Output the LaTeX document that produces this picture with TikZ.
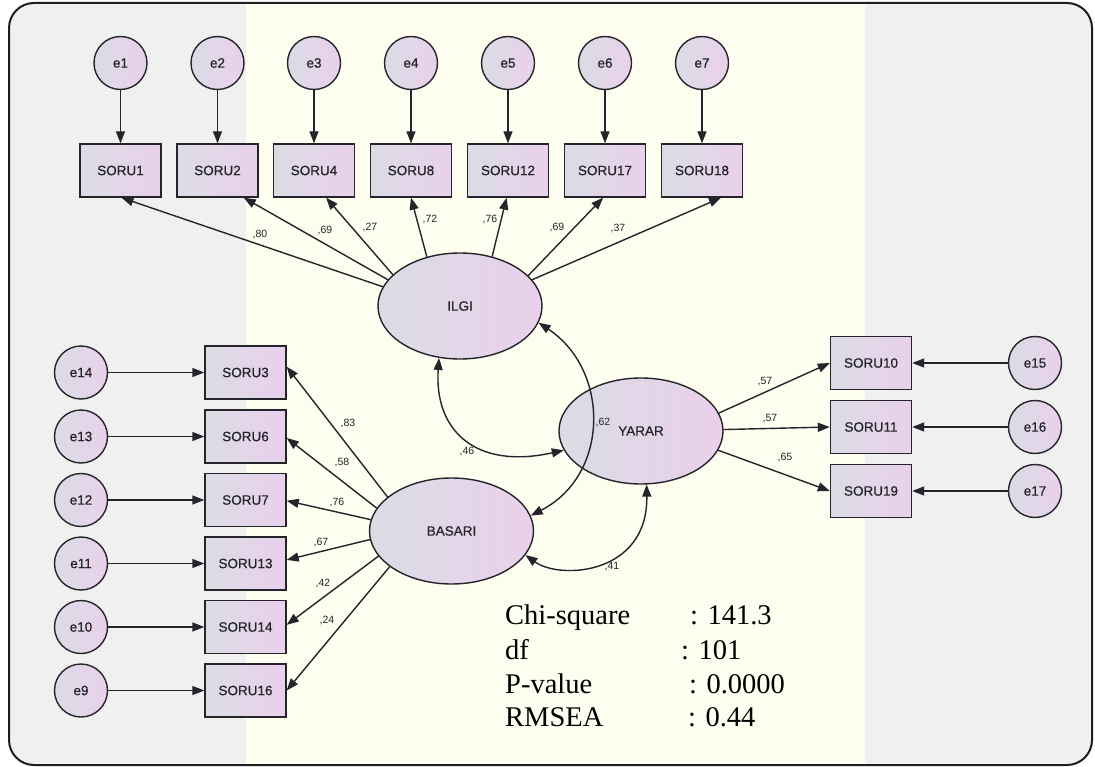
\documentclass[tikz,border=0pt]{standalone}
\usepackage{fontspec}
\setmainfont{Liberation Serif}
\setsansfont{Liberation Sans}
\newfontfamily\diagfont{Liberation Sans}[BoldFont={Liberation Sans}, BoldFeatures={FakeBold=0.6}]
\usetikzlibrary{arrows.meta,shapes.geometric}

\definecolor{panelgray}{RGB}{240,240,240}
\definecolor{panelcream}{RGB}{253,253,240}
\definecolor{shadeL}{RGB}{218,220,228}
\definecolor{shadeR}{RGB}{234,208,236}
\definecolor{ink}{RGB}{36,36,42}
\definecolor{framecol}{RGB}{30,30,30}

\begin{document}
\begin{tikzpicture}[x=1pt,y=-1pt,
  tip/.style={-{Triangle[length=12pt,width=9pt]}},
  obs/.style={rectangle, draw=ink, line width=1.4pt, left color=shadeL, right color=shadeR,
    minimum width=81pt, minimum height=53pt, inner sep=0pt,
    font=\diagfont\bfseries\fontsize{13.5}{13.5}\selectfont, text=ink},
  err/.style={circle, draw=ink, line width=1.4pt, left color=shadeL, right color=shadeR,
    minimum size=53pt, inner sep=0pt,
    font=\diagfont\bfseries\fontsize{13.5}{13.5}\selectfont, text=ink},
  lat/.style={ellipse, draw=ink, line width=1.4pt, left color=shadeL, right color=shadeR,
    minimum width=164pt, minimum height=106pt, inner sep=0pt,
    font=\diagfont\bfseries\fontsize{13.5}{13.5}\selectfont, text=ink},
  load/.style={draw=ink, line width=1.4pt, tip},
  cov/.style={draw=ink, line width=1.4pt,
    {Triangle[length=12pt,width=9pt]}-{Triangle[length=12pt,width=9pt]}},
  coef/.style={font=\sffamily\fontsize{10.5}{10.5}\selectfont, text=ink, inner sep=0pt},
  stat/.style={font=\rmfamily\fontsize{28.5}{34}\selectfont, anchor=base west,
    inner sep=0pt, text=black}
]
\useasboundingbox (0,0) rectangle (1095,767);

% panel background and frame
\begin{scope}
  \clip[rounded corners=25pt] (9,3) rectangle (1092,765);
  \fill[panelgray] (9,3) rectangle (246,765);
  \fill[panelcream] (246,3) rectangle (865,765);
  \fill[panelgray] (865,3) rectangle (1092,765);
\end{scope}
\draw[line width=2pt, draw=framecol, rounded corners=25pt] (9,3) rectangle (1092,765);

% latent variables
\node[lat] (ILGI) at (460,306) {ILGI};
\node[lat] (YARAR) at (641,431) {YARAR};
\node[lat] (BASARI) at (451.5,531) {BASARI};

% ILGI indicators (top row)
\foreach \n/\lab/\e/\x in {s1/SORU1/e1/120.5, s2/SORU2/e2/217.5, s4/SORU4/e3/314,
    s8/SORU8/e4/411, s12/SORU12/e5/508, s17/SORU17/e6/605, s18/SORU18/e7/702}{
  \node[obs] (\n) at (\x,170.5) {\lab};
  \node[err] (\e) at (\x,63) {\e};
  \draw[load] (\e) -- (\n);
}

% BASARI indicators (left column)
\foreach \n/\lab/\e/\y in {s3/SORU3/e14/372.5, s6/SORU6/e13/436.5, s7/SORU7/e12/500,
    s13/SORU13/e11/563.5, s14/SORU14/e10/627, s16/SORU16/e9/690.5}{
  \node[obs] (\n) at (245.5,\y) {\lab};
  \node[err] (\e) at (81,\y) {\e};
  \draw[load] (\e) -- (\n);
}

% YARAR indicators (right column)
\foreach \n/\lab/\e/\y in {s10/SORU10/e15/363, s11/SORU11/e16/427, s19/SORU19/e17/491}{
  \node[obs] (\n) at (871,\y) {\lab};
  \node[err] (\e) at (1035,\y) {\e};
  \draw[load] (\e) -- (\n);
}

% factor loadings
\draw[load] (ILGI.166.6) -- (s1.272);
\draw[load] (ILGI.160.4) -- (s2.314);
\draw[load] (ILGI.155.5) -- (s4.294);
\draw[load] (ILGI.124) -- (s8.270);
\draw[load] (ILGI.57) -- (s12.267);
\draw[load] (ILGI.24.5) -- (s17.266);
\draw[load] (ILGI.20.6) -- (s18.305);

\draw[load] (BASARI.152.2) -- (s3.8);
\draw[load] (BASARI.163.3) -- (s6.358);
\draw[load] (BASARI.172.3) -- (s7.359);
\draw[load] (BASARI.186.3) -- (s13.5);
\draw[load] (BASARI.199) -- (s14.3);
\draw[load] (BASARI.210.4) -- (s16.0);

\draw[load] (YARAR.13.2) -- (s10.180);
\draw[load] (YARAR.1) -- (s11.180);
\draw[load] (YARAR.346) -- (s19.180);

% covariances between factors
\draw[cov] (ILGI.248) .. controls (434,430) and (475,470) .. (YARAR.194);
\draw[cov] (ILGI.348) .. controls (610,370) and (610,475) .. (BASARI.11);
\draw[cov] (BASARI.342) .. controls (560,580) and (648,575) .. (YARAR.276);

% coefficients
\node[coef] (c1) at (260,235) {,80};
\node[coef] (c2) at (325,231) {,69};
\node[coef] (c4) at (370,228) {,27};
\node[coef] (c8) at (430,220) {,72};
\node[coef] (c12) at (490,220) {,76};
\node[coef] (c17) at (557,228) {,69};
\node[coef] (c18) at (618,229) {,37};

\node[coef] (c3) at (348,424) {,83};
\node[coef] (c6) at (342,463) {,58};
\node[coef] (c7) at (337,503) {,76};
\node[coef] (c13) at (321,543) {,67};
\node[coef] (c14) at (323,584) {,42};
\node[coef] (c16) at (327,621) {,24};

\node[coef] (c10) at (765,382) {,57};
\node[coef] (c11) at (770,419) {,57};
\node[coef] (c19) at (785,458) {,65};

\node[coef] (k1) at (467,452) {,46};
\node[coef] (k2) at (603,423) {,62};
\node[coef] (k3) at (612,567) {,41};

% fit statistics
\node[stat] (t1) at (505,624) {Chi-square};
\node[stat] (v1) at (690,624) {: 141.3};
\node[stat] (t2) at (505,659) {df};
\node[stat] (v2) at (681,659) {: 101};
\node[stat] (t3) at (505,693) {P-value};
\node[stat] (v3) at (689,693) {: 0.0000};
\node[stat] (t4) at (505,726) {RMSEA};
\node[stat] (v4) at (688,726) {: 0.44};
\end{tikzpicture}
\end{document}
